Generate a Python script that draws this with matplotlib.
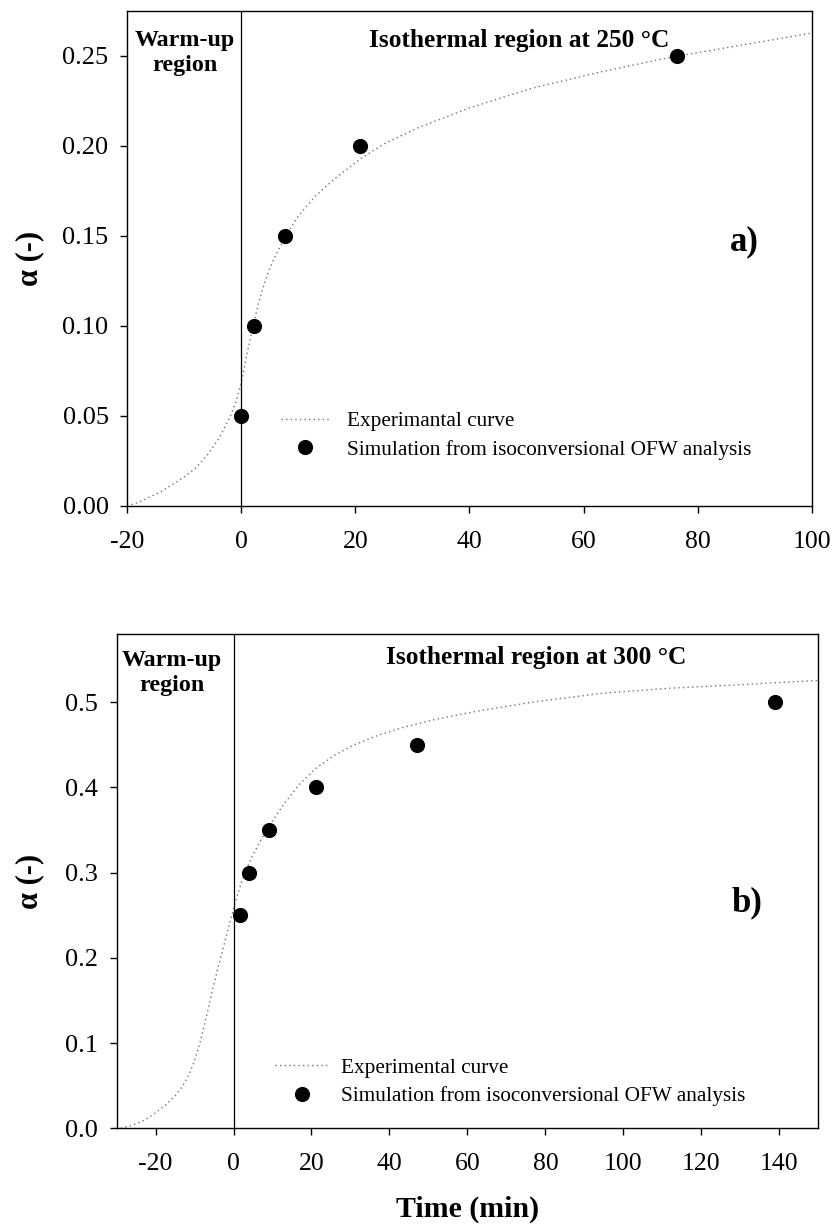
import matplotlib
matplotlib.use("Agg")
import matplotlib.pyplot as plt

plt.rcParams["font.family"] = ["Liberation Serif", "DejaVu Serif"]
plt.rcParams["axes.unicode_minus"] = False

# ---------------- Panel a) : isothermal at 250 °C ----------------
time_a_curve = [-20.0, -18.0, -16.0, -14.0, -12.0, -10.0, -8.0, -6.0, -4.0, -2.0,
                -1.0, 0.0, 1.0, 2.0, 3.0, 4.0, 5.0, 6.0, 8.0, 10.0,
                13.0, 16.5, 21.0, 25.0, 31.0, 40.0, 51.0, 63.0, 75.0, 87.0,
                100.0]
alpha_a_curve = [0.000, 0.002, 0.005, 0.008, 0.012, 0.016, 0.021, 0.028, 0.037, 0.049,
                 0.057, 0.068, 0.084, 0.099, 0.112, 0.123, 0.132, 0.139, 0.151, 0.161,
                 0.172, 0.182, 0.193, 0.201, 0.210, 0.221, 0.232, 0.241, 0.249, 0.2555,
                 0.2626]
time_a_sim = [0.0, 2.2, 7.6, 20.8, 76.4]
alpha_a_sim = [0.05, 0.10, 0.15, 0.20, 0.25]
xticks_a = [-20, 0, 20, 40, 60, 80, 100]
yticks_a = [0.00, 0.05, 0.10, 0.15, 0.20, 0.25]
ytick_labels_a = ["0.00", "0.05", "0.10", "0.15", "0.20", "0.25"]

# ---------------- Panel b) : isothermal at 300 °C ----------------
time_b_curve = [-28.9, -26.0, -23.0, -20.0, -17.0, -15.0, -13.0, -11.5, -10.0, -8.5,
                -7.0, -5.5, -4.0, -2.5, -1.0, 0.5, 2.0, 3.5, 5.0, 7.0,
                9.5, 13.0, 17.0, 21.0, 26.0, 31.0, 37.0, 44.0, 52.0, 62.0,
                77.6, 94.9, 112.0, 129.0, 150.0]
alpha_b_curve = [0.000, 0.0035, 0.009, 0.018, 0.029, 0.038, 0.050, 0.062, 0.079, 0.102,
                 0.130, 0.160, 0.188, 0.214, 0.240, 0.266, 0.288, 0.306, 0.321, 0.338,
                 0.357, 0.381, 0.404, 0.422, 0.438, 0.450, 0.461, 0.471, 0.480, 0.489,
                 0.5007, 0.5106, 0.5164, 0.5203, 0.5255]
time_b_sim = [1.6, 4.0, 9.2, 21.1, 47.0, 138.9]
alpha_b_sim = [0.25, 0.30, 0.35, 0.40, 0.45, 0.50]
xticks_b = [-20, 0, 20, 40, 60, 80, 100, 120, 140]
yticks_b = [0.0, 0.1, 0.2, 0.3, 0.4, 0.5]
ytick_labels_b = ["0.0", "0.1", "0.2", "0.3", "0.4", "0.5"]

CURVE_STYLE = dict(color="0.45", lw=1.0, dashes=(1.0, 2.3))
POINT_STYLE = dict(marker="o", ls="none", color="black", ms=9.9)
BOLD = dict(fontweight="bold")

fig = plt.figure(figsize=(8.33, 12.32), dpi=100)
ax_a = fig.add_axes([0.1525, 0.5893, 0.8220, 0.4020])
ax_b = fig.add_axes([0.1399, 0.0842, 0.8425, 0.4012])


def style_axes(ax):
    for sp in ax.spines.values():
        sp.set_linewidth(1.0)
    ax.tick_params(direction="out", length=5.3, width=1.0)
    ax.tick_params(axis="x", pad=12.5, labelsize=18.5)
    ax.tick_params(axis="y", pad=8, labelsize=19)


# ---- panel a ----
ax_a.plot(time_a_curve, alpha_a_curve, label="Experimantal curve", **CURVE_STYLE)
ax_a.plot(time_a_sim, alpha_a_sim, label="Simulation from isoconversional OFW analysis",
          **POINT_STYLE)
ax_a.axvline(0, color="black", lw=0.9)
ax_a.set_xlim(-20, 100)
ax_a.set_ylim(0, 0.275)
ax_a.set_xticks(xticks_a)
ax_a.set_yticks(yticks_a)
ax_a.set_yticklabels(ytick_labels_a)
style_axes(ax_a)
ax_a.set_ylabel("α (-)", fontsize=22, va="center", **BOLD)
ax_a.yaxis.set_label_coords(-0.1417, 0.5)
ax_a.text(-9.8, 0.2514, "Warm-up\nregion", ha="center", va="center",
          fontsize=17.3, linespacing=1.25, **BOLD)
ax_a.text(48.65, 0.2583, "Isothermal region at 250 °C", ha="center", va="center",
          fontsize=18.3, **BOLD)
ax_a.text(88.1, 0.1468, "a)", ha="center", va="center", fontsize=25, **BOLD)
ax_a.legend(loc="center left", bbox_to_anchor=(0.2249, 0.1425), frameon=False,
            fontsize=15.3, handlelength=2.3, handletextpad=0.8, borderpad=0,
            borderaxespad=0, labelspacing=0.4, numpoints=1)

# ---- panel b ----
ax_b.plot(time_b_curve, alpha_b_curve, label="Experimental curve", **CURVE_STYLE)
ax_b.plot(time_b_sim, alpha_b_sim, label="Simulation from isoconversional OFW analysis",
          **POINT_STYLE)
ax_b.axvline(0, color="black", lw=0.9)
ax_b.set_xlim(-30, 150)
ax_b.set_ylim(0, 0.58)
ax_b.set_xticks(xticks_b)
ax_b.set_yticks(yticks_b)
ax_b.set_yticklabels(ytick_labels_b)
style_axes(ax_b)
ax_b.set_ylabel("α (-)", fontsize=22, va="center", **BOLD)
ax_b.yaxis.set_label_coords(-0.1233, 0.5)
ax_b.set_xlabel("Time (min)", fontsize=21.5, va="center", **BOLD)
ax_b.xaxis.set_label_coords(0.5, -0.165)
ax_b.text(-15.9, 0.534, "Warm-up\nregion", ha="center", va="center",
          fontsize=17.3, linespacing=1.25, **BOLD)
ax_b.text(77.6, 0.552, "Isothermal region at 300 °C", ha="center", va="center",
          fontsize=18.3, **BOLD)
ax_b.text(131.6, 0.2644, "b)", ha="center", va="center", fontsize=25, **BOLD)
ax_b.legend(loc="center left", bbox_to_anchor=(0.2258, 0.0937), frameon=False,
            fontsize=15.3, handlelength=2.5, handletextpad=0.6, borderpad=0,
            borderaxespad=0, labelspacing=0.4, numpoints=1)

fig.savefig("out.png", dpi=100)
